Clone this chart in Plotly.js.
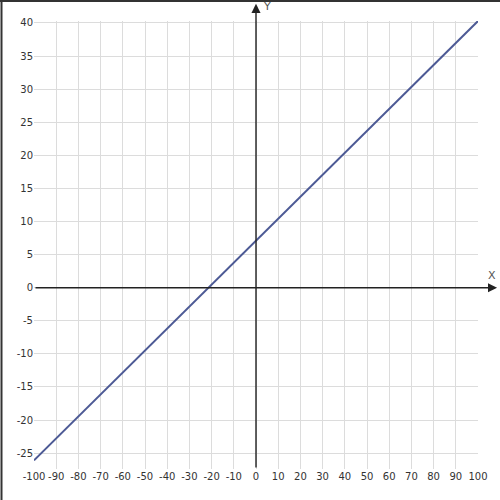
<!DOCTYPE html>
<html>
<head>
<meta charset="utf-8">
<script src="https://cdn.plot.ly/plotly-3.0.1.min.js"></script>
<style>html,body{margin:0;padding:0;background:#fff;}#chart{width:500px;height:500px;}</style>
</head>
<body>
<div id="chart"></div>
<script>
const xValues = [-100, 100];
const yValues = [-26.1, 40.3];
const xTicks = [-100,-90,-80,-70,-60,-50,-40,-30,-20,-10,0,10,20,30,40,50,60,70,80,90,100];
const yTicks = [-25,-20,-15,-10,-5,0,5,10,15,20,25,30,35,40];
const xAxisLabel = "X";
const yAxisLabel = "Y";

const pxW = 444, pxH = 448, L = 34, T = 21;
function px2paperX(p){ return (p - L) / pxW; }
function px2paperY(p){ return 1 - (p - T) / pxH; }

const trace = {
  x: xValues, y: yValues, type: 'scatter', mode: 'lines',
  line: {color: '#4d5a95', width: 2}, hoverinfo: 'skip'
};

const layout = {
  width: 500, height: 500,
  margin: {l: L, r: 500 - L - pxW, t: T, b: 500 - T - pxH},
  paper_bgcolor: '#ffffff', plot_bgcolor: '#ffffff',
  showlegend: false,
  font: {family: 'DejaVu Sans, sans-serif', size: 10, color: '#333'},
  xaxis: {
    range: [-100, 100], tickvals: xTicks, ticktext: xTicks.map(String),
    showgrid: true, gridcolor: '#dcdcdc', gridwidth: 1,
    zeroline: false, showline: false, ticks: '', ticklen: 0,
    tickfont: {size: 10, color: '#333'}, fixedrange: true
  },
  yaxis: {
    range: [-27.4, 40.3], tickvals: yTicks, ticktext: yTicks.map(String),
    showgrid: true, gridcolor: '#dcdcdc', gridwidth: 1,
    zeroline: false, showline: false, ticks: '', ticklen: 0,
    tickfont: {size: 10, color: '#333'}, fixedrange: true
  },
  shapes: [
    // frame lines (left and top)
    {type: 'line', xref: 'paper', yref: 'paper', x0: px2paperX(1.5), x1: px2paperX(1.5), y0: px2paperY(0), y1: px2paperY(500), line: {color: '#333', width: 2}},
    {type: 'line', xref: 'paper', yref: 'paper', x0: px2paperX(0), x1: px2paperX(500), y0: px2paperY(1), y1: px2paperY(1), line: {color: '#333', width: 2}}
  ],
  annotations: [
    // X axis with arrow
    {x: 108.6, y: 0, xref: 'x', yref: 'y', ax: -100, ay: 0, axref: 'x', ayref: 'y',
     showarrow: true, arrowhead: 2, arrowsize: 1.3, arrowwidth: 1.4, arrowcolor: '#222', text: ''},
    // Y axis with arrow
    {x: 0, y: 42.9, xref: 'x', yref: 'y', ax: 0, ay: -27.4, axref: 'x', ayref: 'y',
     showarrow: true, arrowhead: 2, arrowsize: 1.3, arrowwidth: 1.4, arrowcolor: '#222', text: ''},
    {x: px2paperX(492), y: px2paperY(275), xref: 'paper', yref: 'paper', text: xAxisLabel, showarrow: false,
     font: {size: 11, color: '#555'}, xanchor: 'center', yanchor: 'middle'},
    {x: px2paperX(267), y: px2paperY(6), xref: 'paper', yref: 'paper', text: yAxisLabel, showarrow: false,
     font: {size: 11, color: '#555'}, xanchor: 'center', yanchor: 'middle'}
  ]
};

Plotly.newPlot('chart', [trace], layout, {displayModeBar: false, staticPlot: true});
</script>
</body>
</html>
